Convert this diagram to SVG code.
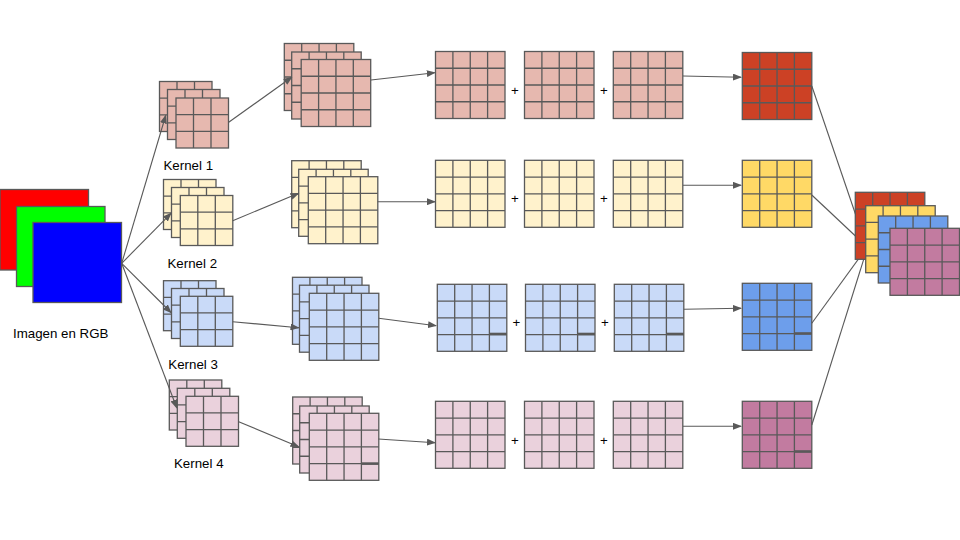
<svg xmlns="http://www.w3.org/2000/svg" xmlns:xlink="http://www.w3.org/1999/xlink" width="960" height="540" viewBox="0 0 960 540">
<style>
.g{stroke:#595959;stroke-width:1.3}
.c1{fill:#e6b8af}.c2{fill:#fff2cc}.c3{fill:#c9daf8}.c4{fill:#ead1dc}
.r1{fill:#cc4125}.r2{fill:#ffd966}.r3{fill:#6d9eeb}.r4{fill:#c27ba0}
.lbl{font-family:"Liberation Sans",Arial,sans-serif;font-size:13.3px;fill:#000}
.pl{font-family:"Liberation Sans",Arial,sans-serif;font-size:13.3px;fill:#000;text-anchor:middle}
.ln{stroke:#595959;stroke-width:1.1;fill:none}
.tk{stroke:#595959;stroke-width:2.6}
</style>
<defs>
<g id="g4"><rect width="69.5" height="67"/><path fill="none" d="M17.4 0V67M34.75 0V67M52.1 0V67M0 16.75H69.5M0 33.5H69.5M0 50.25H69.5"/></g>
<g id="g3"><rect width="52.5" height="50"/><path fill="none" d="M17.5 0V50M35 0V50M0 16.67H52.5M0 33.33H52.5"/></g>
<marker id="ah" markerUnits="userSpaceOnUse" markerWidth="9" markerHeight="7" refX="8" refY="3.5" orient="auto"><path d="M0 0L9 3.5L0 7z" fill="#595959"/></marker>
</defs>
<rect width="960" height="540" fill="#fff"/>

<g id="rgb">
<rect x="0" y="189.5" width="88.5" height="80.5" fill="#ff0000" stroke="#595959" stroke-width="1.3"/>
<rect x="16.5" y="206.5" width="88.5" height="80" fill="#00ff00" stroke="#595959" stroke-width="1.3"/>
<rect x="33" y="222.5" width="88.5" height="80" fill="#0000ff" stroke="#595959" stroke-width="1.3"/>
<text class="lbl" x="13" y="338">Imagen en RGB</text>
</g>

<g id="kernel1" class="g c1">
<use xlink:href="#g3" x="159.5" y="81.5"/><use xlink:href="#g3" x="167.5" y="89.5"/><use xlink:href="#g3" x="176" y="98"/>
<text class="lbl" x="163.5" y="169.5" stroke="none">Kernel 1</text>
</g>
<g id="kernel2" class="g c2">
<use xlink:href="#g3" x="163.5" y="179.5"/><use xlink:href="#g3" x="171.5" y="187.5"/><use xlink:href="#g3" x="180.3" y="195.5"/>
<text class="lbl" x="167.5" y="267.5" stroke="none">Kernel 2</text>
</g>
<g id="kernel3" class="g c3">
<use xlink:href="#g3" x="163.5" y="280.7"/><use xlink:href="#g3" x="171.5" y="288.5"/><use xlink:href="#g3" x="180.3" y="296.3"/>
<text class="lbl" x="168.3" y="368.5" stroke="none">Kernel 3</text>
</g>
<g id="kernel4" class="g c4">
<use xlink:href="#g3" x="169.3" y="380"/><use xlink:href="#g3" x="177.3" y="388.3"/><use xlink:href="#g3" x="186" y="396.3"/>
<text class="lbl" x="174" y="468" stroke="none">Kernel 4</text>
</g>

<g id="fmap1" class="g c1">
<use xlink:href="#g4" x="284.3" y="43.5"/><use xlink:href="#g4" x="291.7" y="52"/><use xlink:href="#g4" x="301.2" y="59.5"/>
</g>
<g id="fmap2" class="g c2">
<use xlink:href="#g4" x="291.7" y="160.7"/><use xlink:href="#g4" x="298.7" y="169.3"/><use xlink:href="#g4" x="308.3" y="176.7"/>
</g>
<g id="fmap3" class="g c3">
<use xlink:href="#g4" x="292.5" y="277.3"/><use xlink:href="#g4" x="299.5" y="285.2"/><use xlink:href="#g4" x="309.3" y="293.3"/>
</g>
<g id="fmap4" class="g c4">
<use xlink:href="#g4" x="292.7" y="397"/><use xlink:href="#g4" x="299.7" y="406"/><use xlink:href="#g4" x="309.3" y="413.3"/>
<line class="tk" x1="361.4" y1="463.6" x2="378.8" y2="463.6"/>
</g>

<g id="sum1" class="g c1">
<use xlink:href="#g4" x="435.5" y="51.5"/><use xlink:href="#g4" x="524.5" y="51.5"/><use xlink:href="#g4" x="613.3" y="51.5"/>
<text class="pl" x="515" y="94.5" stroke="none">+</text><text class="pl" x="604" y="94.5" stroke="none">+</text>
</g>
<g id="sum2" class="g c2">
<use xlink:href="#g4" x="435.5" y="160.3"/><use xlink:href="#g4" x="524.5" y="160.3"/><use xlink:href="#g4" x="613.3" y="160.3"/>
<text class="pl" x="515" y="203" stroke="none">+</text><text class="pl" x="604" y="203" stroke="none">+</text>
</g>
<g id="sum3" class="g c3">
<use xlink:href="#g4" x="437.3" y="284.3"/><use xlink:href="#g4" x="525.5" y="284.3"/><use xlink:href="#g4" x="614.3" y="284.3"/>
<line class="tk" x1="489.4" y1="334" x2="506.8" y2="334"/>
<line class="tk" x1="577.6" y1="334" x2="595" y2="334"/>
<line class="tk" x1="666.4" y1="334" x2="683.8" y2="334"/>
<text class="pl" x="516.3" y="326.8" stroke="none">+</text><text class="pl" x="605" y="326.8" stroke="none">+</text>
</g>
<g id="sum4" class="g c4">
<use xlink:href="#g4" x="435.5" y="401.3"/><use xlink:href="#g4" x="524.5" y="401.3"/><use xlink:href="#g4" x="613.3" y="401.3"/>
<text class="pl" x="515" y="444.5" stroke="none">+</text><text class="pl" x="604" y="444.5" stroke="none">+</text>
</g>

<g id="result1" class="g r1"><use xlink:href="#g4" x="742.3" y="52.5"/></g>
<g id="result2" class="g r2"><use xlink:href="#g4" x="742.3" y="160.3"/></g>
<g id="result3" class="g r3"><use xlink:href="#g4" x="742.3" y="283.3"/><line class="tk" x1="794.4" y1="333.5" x2="811.8" y2="333.5"/></g>
<g id="result4" class="g r4"><use xlink:href="#g4" x="742.3" y="401.3"/><line class="tk" x1="794.4" y1="451.5" x2="811.8" y2="451.5"/></g>

<g id="connectors" class="ln" marker-end="url(#ah)">
<line x1="121.7" y1="263.3" x2="165.7" y2="115.5"/>
<line x1="121.7" y1="263.3" x2="171" y2="213.3"/>
<line x1="121.7" y1="263.3" x2="171" y2="312.5"/>
<line x1="121.7" y1="263.3" x2="176.7" y2="407.7"/>
<line x1="228.7" y1="122.3" x2="291.7" y2="77.3"/>
<line x1="232.7" y1="220.7" x2="298.5" y2="193.3"/>
<line x1="232.7" y1="321.7" x2="298.5" y2="327.7"/>
<line x1="238.7" y1="421.7" x2="298.5" y2="446.7"/>
<line x1="371" y1="80" x2="434.8" y2="72.7"/>
<line x1="377.7" y1="201.7" x2="435" y2="201.7"/>
<line x1="378.7" y1="318.3" x2="436" y2="325.7"/>
<line x1="378.3" y1="439" x2="435" y2="442.7"/>
<line x1="683" y1="76" x2="741" y2="77.3"/>
<line x1="683" y1="185.3" x2="741" y2="185.3"/>
<line x1="683.8" y1="309.3" x2="741" y2="308.3"/>
<line x1="683" y1="426.3" x2="741" y2="426.3"/>
<line x1="811.8" y1="86" x2="865.3" y2="243"/>
<line x1="811.8" y1="195" x2="865" y2="245"/>
<line x1="811.8" y1="323.3" x2="865" y2="250"/>
<line x1="811.8" y1="425" x2="866" y2="252"/>
</g>

<g id="output" class="g">
<use xlink:href="#g4" x="855.3" y="192.3" class="r1"/>
<use xlink:href="#g4" x="865.7" y="205.7" class="r2"/>
<use xlink:href="#g4" x="878.3" y="216" class="r3"/>
<use xlink:href="#g4" x="890" y="228.3" class="r4"/>
</g>
</svg>
